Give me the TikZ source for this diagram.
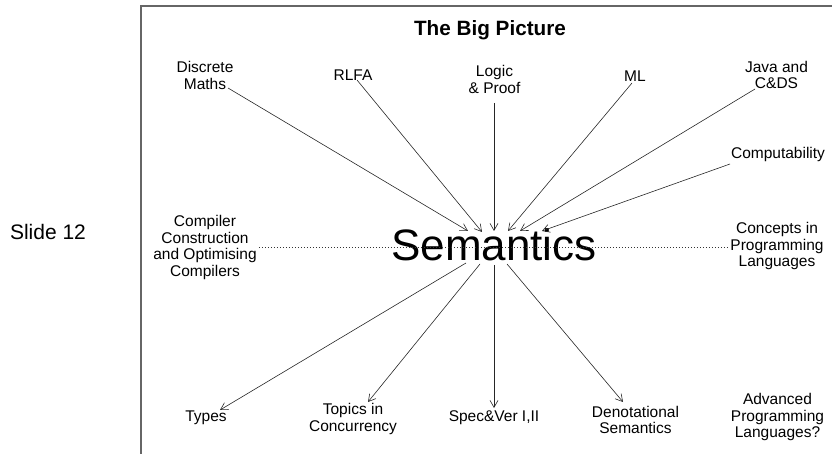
\documentclass[tikz,border=0pt]{standalone}
\usepackage{fontspec}
\setmainfont{Liberation Sans}
\usetikzlibrary{arrows.meta}
\begin{document}
\begin{tikzpicture}[x=1pt,y=-1pt,
  lbl/.style={font=\fontsize{15.5}{16.5}\selectfont, align=center, inner sep=2pt},
  arr/.style={line width=0.6pt, black!85, -{Straight Barb[length=7pt,width=8pt]}},
  frameline/.style={line width=1.8pt, black!60},
  dotline/.style={line width=0.7pt, black!80, dash pattern=on 0.8pt off 2.2pt}]
\useasboundingbox (0,0) rectangle (832,454);
\draw[frameline] (141,454) -- (141,6) -- (832,6);

% title and slide number
\node[font=\fontsize{20.7}{22}\selectfont\bfseries, inner sep=0pt] (title) at (490,30) {The Big Picture};
\node[font=\fontsize{21}{24}\selectfont, inner sep=0pt] (slide) at (48,232) {Slide 12};

% centre
\node[font=\fontsize{44}{48}\selectfont, inner sep=0pt, anchor=base] (sem) at (494,261) {Semantics};

% top labels
\node[lbl] (dm)   at (205,75.5) {Discrete\\Maths};
\node[lbl] (rlfa) at (353,75)   {RLFA};
\node[lbl] (lp)   at (494.5,79.5) {Logic\\\& Proof};
\node[lbl] (ml)   at (635,76)   {ML};
\node[lbl] (java) at (776.5,75) {Java and\\C\&DS};
\node[lbl] (comp) at (778,154)  {Computability};

% side labels
\node[lbl] (cc)  at (205,247.5) {Compiler\\Construction\\and Optimising\\Compilers};
\node[lbl] (cpl) at (777,246)   {Concepts in\\Programming\\Languages};

% bottom labels
\node[lbl] (types)  at (206,418) {Types};
\node[lbl] (topics) at (353,419) {Topics in\\Concurrency};
\node[lbl] (spec)   at (494,418) {Spec\&Ver I,II};
\node[lbl] (den)    at (635.5,420) {Denotational\\Semantics};
\node[lbl] (adv)    at (777.5,417) {Advanced\\Programming\\Languages?};

% arrow ends at Semantics
\coordinate (t1) at (468,231);
\coordinate (t2) at (482,232);
\coordinate (t3) at (494,231);
\coordinate (t4) at (508,231);
\coordinate (t5) at (520,231);
\coordinate (t6) at (542,231);
\coordinate (b1) at (466,263);
\coordinate (b2) at (480,264);
\coordinate (b3) at (494,265);
\coordinate (b4) at (507,264);

% dotted line
\draw[dotline] (cc.east) -- (cc.east -| cpl.west);

% incoming arrows
\draw[arr] ([xshift=23pt,yshift=-12.5pt]dm.center) -- (t1);
\draw[arr] ([xshift=4pt,yshift=-5pt]rlfa.center) -- (t2);
\draw[arr] ([xshift=-0.5pt,yshift=-23.5pt]lp.center) -- (t3);
\draw[arr] ([xshift=-3pt,yshift=-7pt]ml.center) -- (t4);
\draw[arr] ([xshift=-21.5pt,yshift=-14pt]java.center) -- (t5);
\draw[arr] ([xshift=-48pt,yshift=-10pt]comp.center) -- (t6);

% outgoing arrows
\draw[arr] (b1) -- ([xshift=14pt,yshift=8pt]types.center);
\draw[arr] (b2) -- ([xshift=15pt,yshift=17pt]topics.center);
\draw[arr] (b3) -- ([yshift=10pt]spec.center);
\draw[arr] (b4) -- ([xshift=-12.5pt,yshift=18pt]den.center);
\end{tikzpicture}
\end{document}
